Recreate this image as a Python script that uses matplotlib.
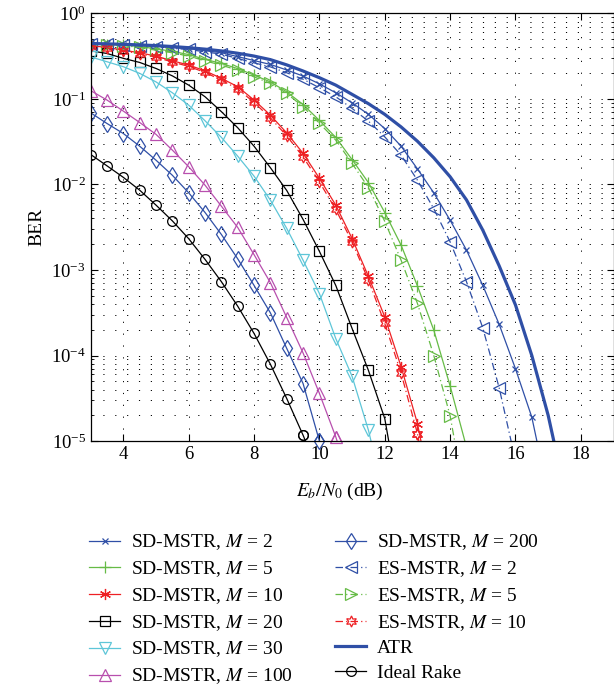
import numpy as np
import matplotlib
matplotlib.use('Agg')
import matplotlib.pyplot as plt
from matplotlib.ticker import LogLocator, MultipleLocator, NullFormatter

plt.rcParams['font.family'] = ['Liberation Serif', 'DejaVu Serif']
plt.rcParams['mathtext.fontset'] = 'stix'

# Eb/N0 grid (dB) shared by all curves
snr = [3.0, 3.5, 4.0, 4.5, 5.0, 5.5, 6.0, 6.5, 7.0, 7.5, 8.0, 8.5, 9.0, 9.5, 10.0,
       10.5, 11.0, 11.5, 12.0, 12.5, 13.0, 13.5, 14.0, 14.5, 15.0, 15.5, 16.0,
       16.5, 17.0, 17.5]

sd_m2 = [0.445, 0.445, 0.432, 0.422, 0.413, 0.397, 0.388, 0.366, 0.347, 0.312,
         0.281, 0.253, 0.218, 0.185, 0.15, 0.118, 0.09, 0.066, 0.045, 0.028,
         0.0152, 7.98e-3, 3.82e-3, 1.71e-3, 6.6e-4, 2.32e-4, 7.0e-5, 1.9e-5, 2.4e-6]
sd_m5 = [0.44, 0.43, 0.43, 0.41, 0.385, 0.36, 0.33, 0.29, 0.26, 0.226, 0.19,
         0.158, 0.121, 0.086, 0.056, 0.0355, 0.0195, 0.0105, 0.0047, 1.95e-3,
         6.5e-4, 1.98e-4, 4.4e-5, 8.5e-6]
sd_m10 = [0.42, 0.40, 0.372, 0.346, 0.317, 0.279, 0.249, 0.213, 0.174, 0.139,
          0.097, 0.0646, 0.040, 0.0231, 0.0118, 0.00573, 0.00233, 8.4e-4,
          2.83e-4, 7.4e-5, 1.6e-5, 1.8e-6]
sd_m20 = [0.365, 0.34, 0.298, 0.267, 0.227, 0.186, 0.145, 0.106, 0.071, 0.046,
          0.028, 0.0157, 0.0085, 0.0039, 0.00165, 6.6e-4, 2.07e-4, 6.7e-5,
          1.83e-5, 1.5e-6]
sd_m30 = [0.31, 0.272, 0.238, 0.199, 0.158, 0.118, 0.0846, 0.0555, 0.0355,
          0.0214, 0.0125, 0.00655, 0.00306, 0.0013, 5.3e-4, 1.58e-4, 5.7e-5,
          1.34e-5, 2.1e-6]
sd_m100 = [0.125, 0.097, 0.072, 0.053, 0.0385, 0.0252, 0.0161, 0.0098, 0.00557,
           0.00314, 0.00151, 7.1e-4, 2.78e-4, 1.07e-4, 3.6e-5, 1.12e-5, 2.8e-6]
sd_m200 = [0.0688, 0.0516, 0.0394, 0.028, 0.0192, 0.0128, 0.00798, 0.0047,
           0.0026, 0.00135, 6.6e-4, 3.15e-4, 1.21e-4, 4.7e-5, 1.0e-5, 3.0e-6]
es_m2 = [0.44, 0.44, 0.426, 0.415, 0.405, 0.389, 0.379, 0.355, 0.334, 0.297,
         0.264, 0.237, 0.202, 0.17, 0.135, 0.106, 0.0774, 0.055, 0.036, 0.022,
         0.0112, 5.2e-3, 2.13e-3, 7.3e-4, 2.1e-4, 4.2e-5, 5.9e-6]
es_m5 = [0.438, 0.426, 0.42, 0.40, 0.372, 0.346, 0.317, 0.279, 0.248, 0.217,
         0.181, 0.152, 0.116, 0.081, 0.052, 0.033, 0.0176, 0.0092, 0.0037,
         1.3e-3, 4.06e-4, 1.0e-4, 1.97e-5, 1.7e-6]
es_m10 = [0.415, 0.395, 0.365, 0.338, 0.308, 0.27, 0.24, 0.204, 0.166, 0.131,
          0.091, 0.06, 0.037, 0.021, 0.0107, 0.0051, 0.00213, 7.6e-4, 2.37e-4,
          6.2e-5, 1.22e-5, 1.2e-6]
atr = [0.445, 0.44, 0.435, 0.428, 0.42, 0.41, 0.397, 0.382, 0.364, 0.342, 0.317,
       0.288, 0.25, 0.212, 0.177, 0.145, 0.113, 0.088, 0.066, 0.047, 0.032,
       0.0205, 0.0123, 6.6e-3, 2.92e-3, 1.12e-3, 3.9e-4, 1.0e-4, 2.0e-5, 2.7e-6]
ideal_rake = [0.0224, 0.0165, 0.0121, 0.00857, 0.00573, 0.00375, 0.00232,
              0.00133, 7.3e-4, 3.77e-4, 1.81e-4, 7.9e-5, 3.14e-5, 1.17e-5, 4.0e-6]

BLUE = '#2f4fa6'
GREEN = '#66bb46'
RED = '#ee2024'
CYAN = '#5ec6d8'
MAGENTA = '#b84fae'
DASHDOT = (0, (6, 2.5, 1, 2.5))
asterisk = (6, 2, 0)
hexagram = (6, 1, 0)

curves = [
    (sd_m2, 'SD-MSTR, $M$ = 2', dict(color=BLUE, ls='-', marker='x', ms=5)),
    (sd_m5, 'SD-MSTR, $M$ = 5', dict(color=GREEN, ls='-', marker='+', ms=8)),
    (sd_m10, 'SD-MSTR, $M$ = 10', dict(color=RED, ls='-', marker=asterisk, ms=8)),
    (sd_m20, 'SD-MSTR, $M$ = 20', dict(color='k', ls='-', marker='s', ms=6.5)),
    (sd_m30, 'SD-MSTR, $M$ = 30', dict(color=CYAN, ls='-', marker='v', ms=8)),
    (sd_m100, 'SD-MSTR, $M$ = 100', dict(color=MAGENTA, ls='-', marker='^', ms=8)),
    (sd_m200, 'SD-MSTR, $M$ = 200', dict(color=BLUE, ls='-', marker='d', ms=8)),
    (es_m2, 'ES-MSTR, $M$ = 2', dict(color=BLUE, ls=DASHDOT, marker='<', ms=8)),
    (es_m5, 'ES-MSTR, $M$ = 5', dict(color=GREEN, ls=DASHDOT, marker='>', ms=8)),
    (es_m10, 'ES-MSTR, $M$ = 10', dict(color=RED, ls=DASHDOT, marker=hexagram, ms=8)),
    (atr, 'ATR', dict(color=BLUE, ls='-', marker=None, lw=2.3)),
    (ideal_rake, 'Ideal Rake', dict(color='k', ls='-', marker='o', ms=7)),
]

fig = plt.figure(figsize=(6.14, 6.87), dpi=100)
ax = fig.add_axes([0.1477, 0.358, 0.8515, 0.6225])

for ber, label, st in curves:
    x = snr[:len(ber)]
    lw = st.pop('lw', 0.9)
    ax.plot(x, ber, label=label, lw=lw, mfc='none', mew=0.9, **st)
    # markers sitting right on the lower edge are drawn unclipped
    if st['marker'] is not None:
        edge = [(xi, yi) for xi, yi in zip(x, ber) if 9e-6 <= yi < 1.3e-5]
        if edge:
            ex, ey = zip(*edge)
            ax.plot(ex, ey, ls='none', marker=st['marker'], ms=st['ms'],
                    color=st['color'], mfc='none', mew=0.9, clip_on=False)

ax.set_yscale('log')
ax.set_xlim(3, 19)
ax.set_ylim(1e-5, 1)
ax.xaxis.set_major_locator(MultipleLocator(2))
ax.set_xticks([4, 6, 8, 10, 12, 14, 16, 18])
ax.yaxis.set_major_locator(LogLocator(base=10, numticks=10))
ax.yaxis.set_minor_locator(LogLocator(base=10, subs=np.arange(2, 10), numticks=20))
ax.yaxis.set_minor_formatter(NullFormatter())

dots = (0, (1.2, 11))
ax.grid(True, which='major', axis='both', color='k', lw=0.7, linestyle=dots)
ax.grid(True, which='minor', axis='y', color='k', lw=0.7, linestyle=dots)

ax.tick_params(which='both', direction='in', top=True, right=True, labelsize=13.5)
ax.tick_params(which='major', length=5, width=0.8)
ax.tick_params(which='minor', length=2.5, width=0.6)
for sp in ax.spines.values():
    sp.set_linewidth(0.9)

ax.set_xlabel('$E_b/N_0$ (dB)', fontsize=14)
ax.xaxis.set_label_coords(0.477, -0.092)
ax.set_ylabel('BER', fontsize=14)

ax.legend(loc='upper left', bbox_to_anchor=(0.145, 0.225), bbox_transform=fig.transFigure,
          ncol=2, frameon=False, fontsize=14, handlelength=1.6, handletextpad=0.55,
          columnspacing=2.2, labelspacing=0.36, borderpad=0, borderaxespad=0)

fig.savefig('out.png', dpi=100)
